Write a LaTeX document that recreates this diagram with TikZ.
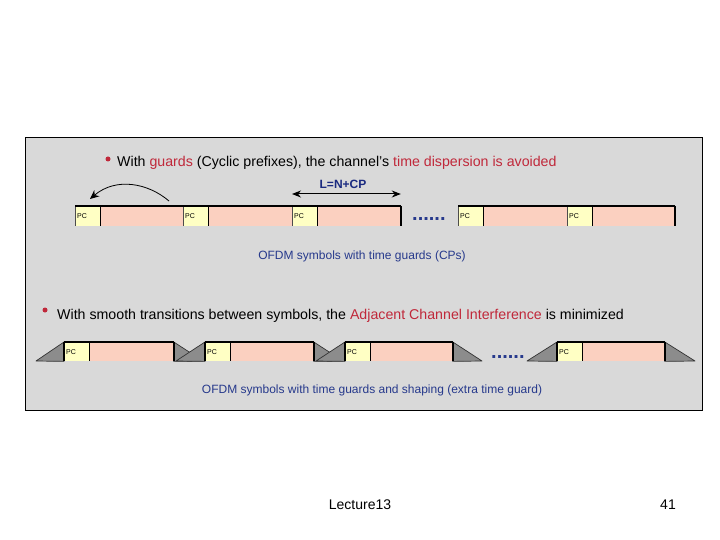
\documentclass[tikz,border=0pt]{standalone}
\usepackage{fontspec}
\setmainfont{Liberation Sans}
\usetikzlibrary{arrows.meta}
\definecolor{panelgray}{HTML}{D9D9D9}
\definecolor{pinkfill}{HTML}{FBD0C0}
\definecolor{pcyellow}{HTML}{FFFFC4}
\definecolor{hired}{HTML}{C0283A}
\definecolor{navytext}{HTML}{26398C}
\definecolor{navybold}{HTML}{1A2A80}
\definecolor{shapegray}{HTML}{8C8C8C}
\tikzset{
  panelbox/.style={draw=black, fill=panelgray, line width=1.3pt, inner sep=0pt, anchor=north west},
  pccell/.style={fill=pcyellow, inner ysep=0pt, inner xsep=2pt, text width=21pt, align=left, anchor=north west, font=\fontsize{7}{8}\selectfont},
  pinkcell/.style={fill=pinkfill, inner sep=0pt, anchor=north west},
  bulletdot/.style={circle, fill=hired, inner sep=0pt, minimum size=5pt},
  bodytext/.style={anchor=base west, inner sep=0pt, font=\fontsize{14.2}{16}\selectfont},
  captext/.style={anchor=base, inner sep=0pt, text=navytext, font=\fontsize{12}{14}\selectfont},
  dotstext/.style={anchor=base west, inner sep=0pt, text=navytext, font=\fontsize{20}{22}\selectfont\bfseries},
  topline/.style={line width=1.1pt, black},
  sepline/.style={line width=1.4pt, black},
  thinline/.style={line width=0.5pt, black!70},
  ramp/.style={fill=shapegray, draw=black!80, line width=0.7pt, line join=round},
  bigtip/.style={Stealth[length=9pt,width=8pt]},
  footertext/.style={anchor=base, inner sep=0pt, font=\fontsize{14}{16}\selectfont}
}
\begin{document}
\begin{tikzpicture}[x=1pt,y=-1pt]
\useasboundingbox (0,0) rectangle (720,540);
\fill[white] (0,0) rectangle (720,540);
\node[panelbox, minimum width=677pt, minimum height=273pt] (panel) at (25,137) {};

% ---------- bullet 1 ----------
\node[bulletdot] (b1) at (108,159) {};
\node[bodytext] (t1) at (117,167) {With \textcolor{hired}{guards} (Cyclic prefixes), the channel’s \textcolor{hired}{time dispersion is avoided}};

% ---------- row 1 ----------
\foreach \a/\c [count=\i] in {75/183, 183/292, 292/400, 458/567, 567/674} {
  \node[pccell, minimum height=20pt] (pc\i) at (\a,206) {PC};
  \node[pinkcell, minimum width={(\c-\a-25)*1pt}, minimum height=20pt] (pk\i) at (pc\i.north east) {};
  \draw[thinline] (pc\i.north west) -- (pc\i.south west);
  \draw[topline] (pc\i.north west) -- (pk\i.north east);
  \draw[sepline] (pk\i.north west) -- (pk\i.south west);
  \draw[sepline] (pk\i.north east) -- (pk\i.south east);
}
\node[dotstext] (d1) at (412,221) {......};

% curved arrow
\coordinate (ca1) at (169,201);
\coordinate (ca2) at (90,199);
\draw[-{Stealth[length=9pt,width=8pt]}, line width=0.8pt] (ca1) .. controls (148,183) and (116,177) .. (ca2);

% L = N + CP
\coordinate (la) at ([yshift=12pt]pc3.north west);
\coordinate (lb) at ([yshift=12pt]pk3.north east);
\draw[{Stealth[length=9pt,width=7pt]}-{Stealth[length=9pt,width=7pt]}, line width=1pt] (la) -- (lb);
\node[anchor=base, inner sep=0pt, text=navybold, font=\fontsize{12}{14}\selectfont\bfseries] (lab) at (343,189) {L=N+CP};

\node[captext] (cap1) at (362,259) {OFDM symbols with time guards (CPs)};

% ---------- bullet 2 ----------
\node[bulletdot] (b2) at (45,310) {};
\node[bodytext] (t2) at (57,319) {With smooth transitions between symbols, the \textcolor{hired}{Adjacent Channel Interference} is minimized};

% ---------- row 2 ----------
\foreach \s/\a/\c/\e [count=\i] in {36/64/173/203, 176/205/313/343, 316/345/452/482, 527/557/664/695} {
  \node[pccell, minimum height=19pt] (qc\i) at (\a,342) {PC};
  \node[pinkcell, minimum width={(\c-\a-25)*1pt}, minimum height=19pt] (qk\i) at (qc\i.north east) {};
  \coordinate (ls\i) at (\s,361);
  \coordinate (re\i) at (\e,361);
}
\foreach \i in {1,...,4} {
  \draw[ramp] (qk\i.north east) -- (re\i) -- (qk\i.south east) -- cycle;
  \draw[ramp] (ls\i) -- (qc\i.north west) -- (qc\i.south west) -- cycle;
  \draw[topline] (qc\i.north west) -- (qk\i.north east);
  \draw[sepline] (qk\i.north west) -- (qk\i.south west);
  \draw[sepline] (qk\i.north east) -- (qk\i.south east);
  \draw[sepline] (qc\i.north west) -- (qc\i.south west);
}
\node[dotstext] (d2) at (491,358) {......};

\node[captext] (cap2) at (372,393) {OFDM symbols with time guards and shaping (extra time guard)};

% ---------- footer ----------
\node[footertext] (lec) at (360,509) {Lecture13};
\node[footertext] (pg) at (668,509) {41};
\end{tikzpicture}
\end{document}
